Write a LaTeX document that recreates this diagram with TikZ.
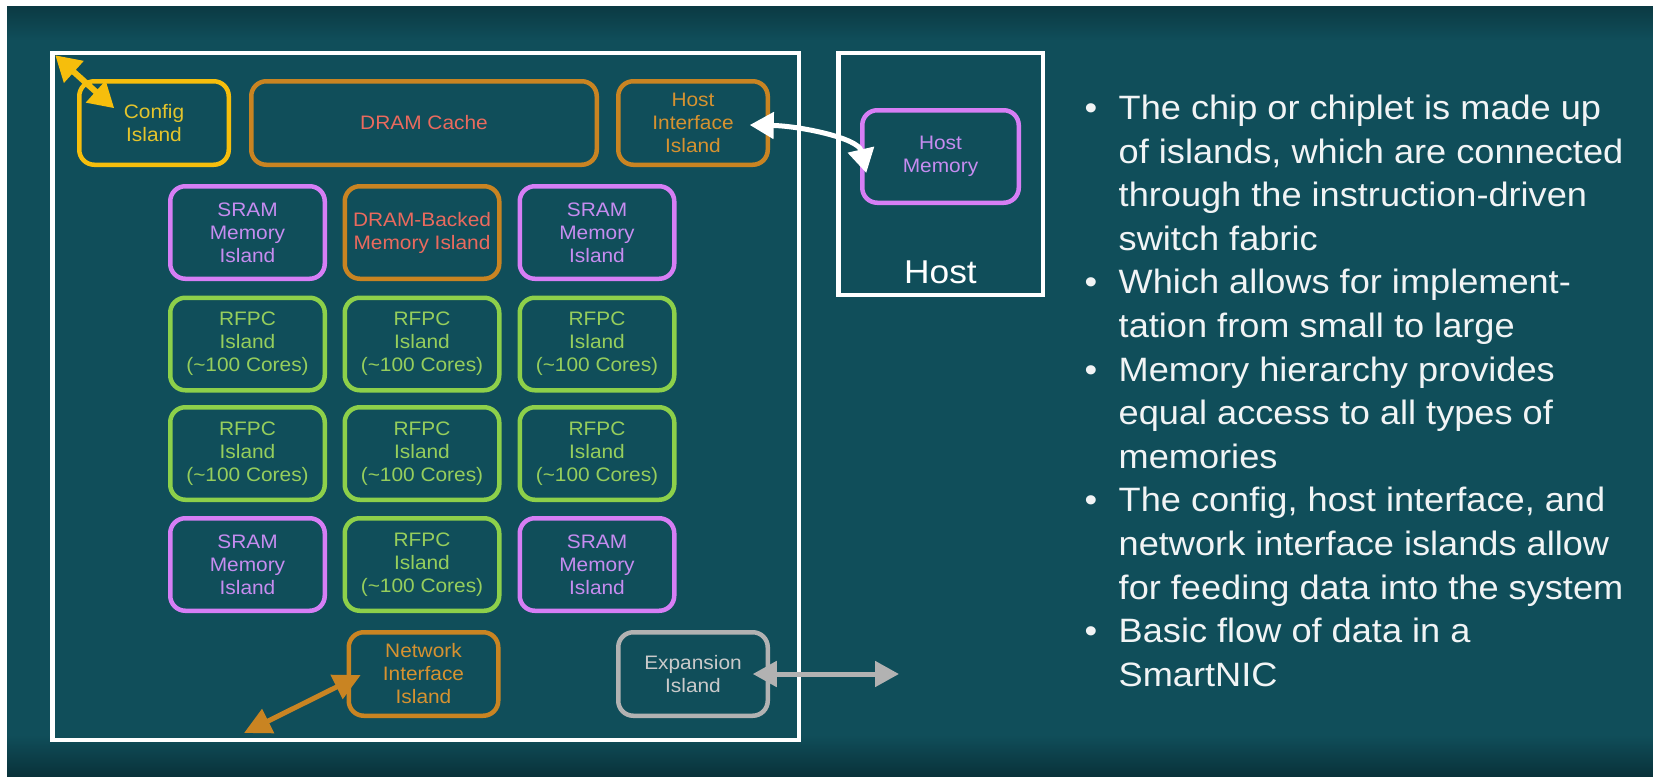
\documentclass[tikz,border=0pt]{standalone}
\usepackage{fontspec}
\setmainfont[FakeStretch=1.07]{Liberation Sans}
\usetikzlibrary{arrows.meta,positioning,calc}

\definecolor{slate}{RGB}{16,78,90}
\definecolor{slatedark}{RGB}{9,50,58}
\definecolor{cfgyellow}{RGB}{246,190,12}
\definecolor{cfgtext}{RGB}{228,196,44}
\definecolor{amber}{RGB}{201,132,34}
\definecolor{ambertext}{RGB}{214,146,48}
\definecolor{coral}{RGB}{234,106,94}
\definecolor{lilac}{RGB}{214,126,245}
\definecolor{lilactext}{RGB}{198,140,240}
\definecolor{lime}{RGB}{141,208,74}
\definecolor{limetext}{RGB}{150,206,92}
\definecolor{ash}{RGB}{178,178,178}
\definecolor{ashtext}{RGB}{202,202,202}

\newcommand{\labelfont}{\fontsize{19.5}{23}\selectfont}
\newcommand{\notefont}{\fontsize{33.8}{43.6}\selectfont}

\begin{document}
\begin{tikzpicture}[x=1pt, y=-1pt,
  island/.style={draw, line width=4.5pt, rounded corners=15pt, align=center,
    inner sep=0pt, outer sep=0pt, font=\labelfont},
  cell/.style={island, minimum width=154.5pt, minimum height=92.5pt},
  edge/.style={island, minimum width=149.5pt, minimum height=83.5pt},
  sram/.style={cell, draw=lilac, text=lilactext},
  rfpc/.style={cell, draw=lime, text=limetext},
  frame/.style={draw=white, line width=4.5pt, inner sep=0pt, outer sep=0pt},
  cfglink/.style={cfgyellow, line width=6pt, >={Triangle[length=25pt,width=28pt]}, <->},
  hostlink/.style={white, line width=5pt, >={Triangle[length=24pt,width=26pt]}, <->},
  netlink/.style={amber, line width=5pt, >={Triangle[length=27pt,width=26pt]}, <->},
  explink/.style={ash, line width=5pt, >={Triangle[length=24pt,width=25pt]}, <->}]

  %% backdrop
  \fill[white] (0,0) rectangle (1653,776);
  \fill[slate] (7,7) rectangle (1653,776);
  \shade[top color=slatedark!70!slate, bottom color=slate] (7,7) rectangle (1653,40);
  \shade[top color=slate, bottom color=slatedark] (7,735) rectangle (1653,776);
  \useasboundingbox (0,0) rectangle (1653,776);

  %% chip and host outlines
  \node[frame, minimum width=746.5pt, minimum height=686.5pt] (chip) at (425.5,396.5) {};
  \node[frame, minimum width=204.5pt, minimum height=241.5pt] (host) at (940.5,174) {};
  \node[font=\fontsize{33}{38}\selectfont, text=white, anchor=base] (hostname) at (940.5,283) {Host};

  %% top row
  \node[edge, draw=cfgyellow, text=cfgtext] (config) at (154,123) {Config\\Island};
  \node[island, draw=amber, text=coral, minimum width=345.5pt, minimum height=83.5pt]
    (dramcache) at (424,123) {DRAM Cache};
  \node[edge, draw=amber, text=ambertext] (hostif) at (693,123) {Host\\Interface\\Island};

  %% island grid
  \node[sram] (sram1) at (247.5,232.5) {SRAM\\Memory\\Island};
  \node[cell, draw=amber, text=coral] (dramback) at (422,232.5) {DRAM-Backed\\Memory Island};
  \node[sram] (sram2) at (597,232.5) {SRAM\\Memory\\Island};

  \node[rfpc] (rfpc1) at (247.5,344) {RFPC\\Island\\(\textasciitilde100 Cores)};
  \node[rfpc] (rfpc2) at (422,344) {RFPC\\Island\\(\textasciitilde100 Cores)};
  \node[rfpc] (rfpc3) at (597,344) {RFPC\\Island\\(\textasciitilde100 Cores)};

  \node[rfpc] (rfpc4) at (247.5,453.5) {RFPC\\Island\\(\textasciitilde100 Cores)};
  \node[rfpc] (rfpc5) at (422,453.5) {RFPC\\Island\\(\textasciitilde100 Cores)};
  \node[rfpc] (rfpc6) at (597,453.5) {RFPC\\Island\\(\textasciitilde100 Cores)};

  \node[sram] (sram3) at (247.5,564.5) {SRAM\\Memory\\Island};
  \node[rfpc] (rfpc7) at (422,564.5) {RFPC\\Island\\(\textasciitilde100 Cores)};
  \node[sram] (sram4) at (597,564.5) {SRAM\\Memory\\Island};

  %% bottom row
  \node[edge, draw=amber, text=ambertext] (netif) at (423.5,674) {Network\\Interface\\Island};
  \node[edge, draw=ash, text=ashtext] (expansion) at (693,674) {Expansion\\Island};

  %% host side
  \node[island, draw=lilac, text=lilactext, minimum width=156.5pt, minimum height=92.5pt]
    (hostmem) at (940.5,156.5) {Host\\Memory};

  %% outside ports
  \coordinate (cfgport) at ($(chip.north west)+(3,2)$);
  \coordinate (netport) at (244,733);
  \coordinate (expport) at (899,674);

  %% links
  \draw[cfglink] (cfgport) -- ($(config.north west)+(35,27)$);
  \draw[hostlink] ($(hostif.east)+(-18,2)$)
    .. controls ($(hostif.east)+(32,3)$) and ($(hostmem.west)+(-4,-18.5)$)
    .. ($(hostmem.west)+(4,16.5)$);
  \draw[netlink] (netport) -- ($(netif.west)+(12,1)$);
  \draw[explink] ($(expansion.east)+(-15,0)$) -- (expport);

  %% notes
  \node[anchor=base west, inner sep=0pt, text=white!94!slate, font=\notefont] (notes) at (1084.5,119.5) {%
    \begin{tabular}[t]{@{}l@{}l@{}}
      \makebox[34pt][l]{\textbullet} & The chip or chiplet is made up\\
      & of islands, which are connected\\
      & through the instruction-driven\\
      & switch fabric\\
      \textbullet & Which allows for implement-\\
      & tation from small to large\\
      \textbullet & Memory hierarchy provides\\
      & equal access to all types of\\
      & memories\\
      \textbullet & The config, host interface, and\\
      & network interface islands allow\\
      & for feeding data into the system\\
      \textbullet & Basic flow of data in a\\
      & SmartNIC
    \end{tabular}};
\end{tikzpicture}
\end{document}
